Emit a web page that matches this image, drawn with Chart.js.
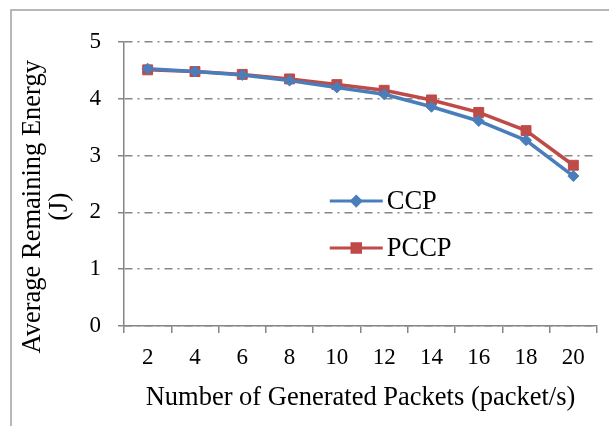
<!DOCTYPE html>
<html>
<head>
<meta charset="utf-8">
<script src="https://cdn.jsdelivr.net/npm/chart.js@4"></script>
<style>
  body { margin: 0; background: #fff; }
</style>
</head>
<body>
<canvas id="myChartLine" width="609" height="426"></canvas>
<script>
// data
const packets = ['2', '4', '6', '8', '10', '12', '14', '16', '18', '20'];
const ccp = [4.53, 4.48, 4.42, 4.32, 4.20, 4.08, 3.86, 3.61, 3.27, 2.64];
const pccp = [4.51, 4.48, 4.43, 4.35, 4.25, 4.15, 3.98, 3.76, 3.44, 2.83];
const yTicks = [0, 1, 2, 3, 4, 5];
const yTitle = ['Average Remaining Energy', '(J)'];

const serif = "'Liberation Serif', 'Times New Roman', serif";
const gray = '#868686';

// thin frame around the picture (left and top edge only)
const framePlugin = {
    id: 'frame',
    beforeDraw(chart) {
        const ctx = chart.ctx;
        ctx.save();
        ctx.strokeStyle = '#a0a0a0';
        ctx.lineWidth = 1.5;
        ctx.beginPath();
        ctx.moveTo(11, chart.height);
        ctx.lineTo(11, 10);
        ctx.lineTo(chart.width, 10);
        ctx.stroke();
        ctx.restore();
    }
};

// y title drawn by hand so it is not squeezed to the plot height
const yTitlePlugin = {
    id: 'yTitle',
    afterDraw(chart) {
        const ctx = chart.ctx;
        const area = chart.chartArea;
        const cy = area.top + 0.58 * (area.bottom - area.top);
        ctx.save();
        ctx.translate(33, cy);
        ctx.rotate(-Math.PI / 2);
        ctx.fillStyle = '#000';
        ctx.font = '26.5px ' + serif;
        ctx.textAlign = 'center';
        ctx.textBaseline = 'middle';
        yTitle.forEach((line, i) => ctx.fillText(line, 0, i * 27));
        ctx.restore();
    }
};

// legend drawn inside the plot area
const insideLegend = {
    id: 'insideLegend',
    afterDatasetsDraw(chart) {
        const ctx = chart.ctx;
        const area = chart.chartArea;
        const x0 = area.left + 0.435 * (area.right - area.left);
        const y0 = area.top + 0.56 * (area.bottom - area.top);
        const gap = 47;
        chart.data.datasets.forEach((ds, i) => {
            const y = y0 + i * gap;
            ctx.save();
            ctx.strokeStyle = ds.borderColor;
            ctx.lineWidth = 3;
            ctx.beginPath();
            ctx.moveTo(x0, y);
            ctx.lineTo(x0 + 53, y);
            ctx.stroke();
            Chart.helpers.drawPoint(ctx, {
                pointStyle: ds.pointStyle,
                radius: ds.pointRadius - 1,
                borderWidth: 1
            }, x0 + 26.5, y);
            ctx.fillStyle = ds.borderColor;
            ctx.fill();
            ctx.fillStyle = '#000';
            ctx.font = '26.5px ' + serif;
            ctx.textBaseline = 'middle';
            ctx.fillText(ds.label, x0 + 57, y + 1);
            ctx.restore();
        });
    }
};

const ctx = document.getElementById('myChartLine').getContext('2d');
const chart = new Chart(ctx, {
    type: 'line',
    data: {
        labels: packets,
        datasets: [{
            label: 'CCP',
            data: ccp,
            borderColor: '#4a7ebb',
            backgroundColor: '#4a7ebb',
            borderWidth: 3.5,
            pointStyle: 'rectRot',
            pointRadius: 5.5,
            pointBorderWidth: 1
        }, {
            label: 'PCCP',
            data: pccp,
            borderColor: '#be4b48',
            backgroundColor: '#be4b48',
            borderWidth: 3.5,
            pointStyle: 'rect',
            pointRadius: 7,
            pointBorderWidth: 1
        }]
    },
    options: {
        responsive: false,
        animation: false,
        layout: { padding: { top: 42, right: 12, left: 0, bottom: 0 } },
        plugins: {
            legend: { display: false },
            tooltip: { enabled: false }
        },
        scales: {
            x: {
                offset: true,
                afterFit: (scale) => { scale.height = 100; },
                grid: {
                    offset: true,
                    drawOnChartArea: false,
                    color: gray,
                    lineWidth: 1.5,
                    tickLength: 7
                },
                border: { color: gray, width: 1.5 },
                ticks: {
                    color: '#000',
                    padding: 11,
                    maxRotation: 0,
                    font: { family: serif, size: 23 }
                },
                title: {
                    display: true,
                    text: 'Number of Generated Packets (packet/s)',
                    color: '#000',
                    padding: { top: 0, bottom: 12 },
                    font: { family: serif, size: 26.5 }
                }
            },
            y: {
                min: yTicks[0],
                max: yTicks[yTicks.length - 1],
                afterFit: (scale) => { scale.width = 124; },
                afterBuildTicks: (scale) => { scale.ticks = yTicks.map(v => ({ value: v })); },
                grid: {
                    color: gray,
                    lineWidth: 1.5,
                    tickLength: 6
                },
                border: { color: gray, width: 1.5, dash: [8, 5, 2, 5] },
                ticks: {
                    color: '#000',
                    padding: 17,
                    font: { family: serif, size: 23 }
                }
            }
        }
    },
    plugins: [framePlugin, yTitlePlugin, insideLegend]
});
</script>
</body>
</html>
